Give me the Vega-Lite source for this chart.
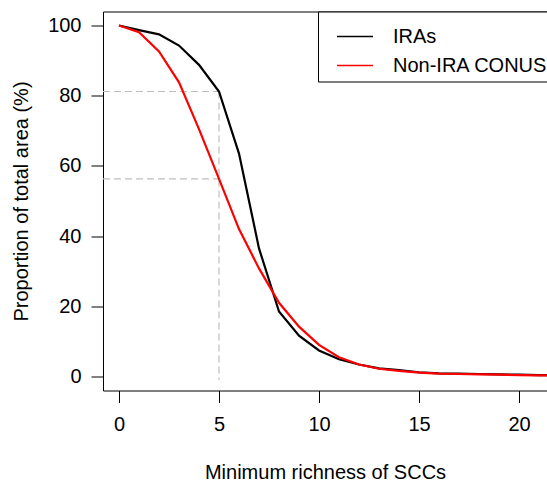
{
  "$schema": "https://vega.github.io/schema/vega-lite/v6.json",
  "autosize": {"type": "none"},
  "width": 444,
  "height": 379,
  "padding": {"left": 103, "top": 11.5, "right": 0, "bottom": 91.5},
  "background": "white",
  "config": {
    "view": {"stroke": null},
    "font": "Liberation Sans",
    "axis": {"labelFont": "Liberation Sans", "titleFont": "Liberation Sans", "labelColor": "black", "titleColor": "black", "titleFontWeight": "normal", "grid": false}
  },
  "datasets": {
    "guides": [
      {"x": -0.8, "x2": 5, "y": 81.2, "y2": 81.2},
      {"x": -0.8, "x2": 5, "y": 56.3, "y2": 56.3},
      {"x": 5, "x2": 5, "y": 81.2, "y2": -1}
    ],
    "curves": [
      {"richness": 0, "proportion": 100, "region": "IRAs"},
      {"richness": 1, "proportion": 98.7, "region": "IRAs"},
      {"richness": 2, "proportion": 97.5, "region": "IRAs"},
      {"richness": 3, "proportion": 94.3, "region": "IRAs"},
      {"richness": 4, "proportion": 88.8, "region": "IRAs"},
      {"richness": 5, "proportion": 81.2, "region": "IRAs"},
      {"richness": 6, "proportion": 63.5, "region": "IRAs"},
      {"richness": 7, "proportion": 36.5, "region": "IRAs"},
      {"richness": 8, "proportion": 18.5, "region": "IRAs"},
      {"richness": 9, "proportion": 11.6, "region": "IRAs"},
      {"richness": 10, "proportion": 7.4, "region": "IRAs"},
      {"richness": 11, "proportion": 4.9, "region": "IRAs"},
      {"richness": 12, "proportion": 3.4, "region": "IRAs"},
      {"richness": 13, "proportion": 2.3, "region": "IRAs"},
      {"richness": 14, "proportion": 1.8, "region": "IRAs"},
      {"richness": 15, "proportion": 1.2, "region": "IRAs"},
      {"richness": 16, "proportion": 0.9, "region": "IRAs"},
      {"richness": 17, "proportion": 0.8, "region": "IRAs"},
      {"richness": 18, "proportion": 0.7, "region": "IRAs"},
      {"richness": 19, "proportion": 0.6, "region": "IRAs"},
      {"richness": 20, "proportion": 0.5, "region": "IRAs"},
      {"richness": 21, "proportion": 0.4, "region": "IRAs"},
      {"richness": 22, "proportion": 0.4, "region": "IRAs"},
      {"richness": 0, "proportion": 100, "region": "Non-IRA CONUS"},
      {"richness": 1, "proportion": 98.1, "region": "Non-IRA CONUS"},
      {"richness": 2, "proportion": 92.6, "region": "Non-IRA CONUS"},
      {"richness": 3, "proportion": 83.8, "region": "Non-IRA CONUS"},
      {"richness": 4, "proportion": 70.5, "region": "Non-IRA CONUS"},
      {"richness": 5, "proportion": 56.3, "region": "Non-IRA CONUS"},
      {"richness": 6, "proportion": 42, "region": "Non-IRA CONUS"},
      {"richness": 7, "proportion": 30.8, "region": "Non-IRA CONUS"},
      {"richness": 8, "proportion": 21, "region": "Non-IRA CONUS"},
      {"richness": 9, "proportion": 14.2, "region": "Non-IRA CONUS"},
      {"richness": 10, "proportion": 9.0, "region": "Non-IRA CONUS"},
      {"richness": 11, "proportion": 5.5, "region": "Non-IRA CONUS"},
      {"richness": 12, "proportion": 3.4, "region": "Non-IRA CONUS"},
      {"richness": 13, "proportion": 2.2, "region": "Non-IRA CONUS"},
      {"richness": 14, "proportion": 1.6, "region": "Non-IRA CONUS"},
      {"richness": 15, "proportion": 1.1, "region": "Non-IRA CONUS"},
      {"richness": 16, "proportion": 0.8, "region": "Non-IRA CONUS"},
      {"richness": 17, "proportion": 0.7, "region": "Non-IRA CONUS"},
      {"richness": 18, "proportion": 0.6, "region": "Non-IRA CONUS"},
      {"richness": 19, "proportion": 0.5, "region": "Non-IRA CONUS"},
      {"richness": 20, "proportion": 0.4, "region": "Non-IRA CONUS"},
      {"richness": 21, "proportion": 0.3, "region": "Non-IRA CONUS"},
      {"richness": 22, "proportion": 0.3, "region": "Non-IRA CONUS"}
    ]
  },
  "layer": [
    {
      "data": {"name": "guides"},
      "mark": {"type": "rule", "strokeDash": [7, 4], "color": "#BEBEBE", "strokeWidth": 1.2, "clip": true},
      "encoding": {
        "x": {"field": "x", "type": "quantitative",
          "scale": {"domain": [-0.8, 21.4], "nice": false, "zero": false},
          "axis": {"orient": "bottom", "values": [0, 5, 10, 15, 20], "tickSize": 12, "tickColor": "black", "tickWidth": 1,
            "domain": true, "domainColor": "black", "domainWidth": 1, "labelFontSize": 20, "labelPadding": 12, "labelFlush": false,
            "title": "Minimum richness of SCCs", "titleFontSize": 20, "titlePadding": 28}},
        "x2": {"field": "x2"},
        "y": {"field": "y", "type": "quantitative",
          "scale": {"domain": [-4, 104], "nice": false, "zero": false},
          "axis": {"orient": "left", "values": [0, 20, 40, 60, 80, 100], "tickSize": 12, "tickColor": "black", "tickWidth": 1,
            "domain": true, "domainColor": "black", "domainWidth": 1, "labelFontSize": 20, "labelPadding": 10,
            "title": "Proportion of total area (%)", "titleFontSize": 20, "titlePadding": 16}},
        "y2": {"field": "y2"}
      }
    },
    {
      "data": {"name": "curves"},
      "mark": {"type": "line", "strokeWidth": 2.2, "clip": true},
      "encoding": {
        "x": {"field": "richness", "type": "quantitative",
          "axis": {"orient": "top", "labels": false, "ticks": false, "domain": true, "domainColor": "black", "domainWidth": 1, "title": null}},
        "y": {"field": "proportion", "type": "quantitative", "axis": {"orient": "left", "values": [0, 20, 40, 60, 80, 100], "tickSize": 12, "tickColor": "black", "tickWidth": 1,
            "domain": true, "domainColor": "black", "domainWidth": 1, "labelFontSize": 20, "labelPadding": 10,
            "title": "Proportion of total area (%)", "titleFontSize": 20, "titlePadding": 16}},
        "color": {"field": "region", "type": "nominal",
          "scale": {"domain": ["IRAs", "Non-IRA CONUS"], "range": ["black", "red"]},
          "legend": {"orient": "none", "legendX": 215, "legendY": 0, "title": null, "strokeColor": "black", "fillColor": "white",
            "padding": 6, "symbolType": "stroke", "symbolSize": 1296, "symbolStrokeWidth": 1.5, "symbolOffset": 12,
            "labelOffset": 19, "labelFontSize": 20, "labelColor": "black", "labelFont": "Liberation Sans", "rowPadding": -11}}
      }
    }
  ],
  "resolve": {"axis": {"x": "independent"}}
}
